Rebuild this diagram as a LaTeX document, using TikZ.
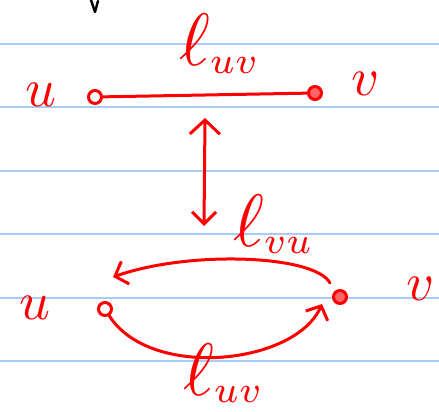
\documentclass[tikz,border=0pt]{standalone}
\usetikzlibrary{arrows.meta}
\definecolor{ruled}{RGB}{168,204,245}
\definecolor{ink}{RGB}{255,0,0}
\newcommand{\bigell}{\scalebox{1.4}{$\ell$}}
\begin{document}
\begin{tikzpicture}[x=1pt,y=-1pt,
  rule/.style={ruled,line width=2pt},
  pen/.style={ink,line width=3pt,line cap=round,line join=round},
  vtx/.style={circle,draw=ink,line width=3pt,minimum size=13pt,inner sep=0pt},
  arr/.style={pen,-{Straight Barb[length=11pt,width=24pt,line width=3pt]}},
  dbl/.style={pen,{Straight Barb[length=14pt,width=30pt,line width=3pt]}-{Straight Barb[length=12pt,width=24pt,line width=3pt]}},
  lbl/.style={text=ink,inner sep=0pt,scale=5.4},
  elbl/.style={text=ink,inner sep=0pt,scale=5.3,anchor=base west}]
\useasboundingbox (0,0) rectangle (439,412);
\fill[white] (0,0) rectangle (439,412);
% ruled lines
\foreach \yy in {44,107,171,234,298,361}{\draw[rule] (0,\yy) -- (439,\yy);}
% black remnant
\draw[black,line width=2.4pt,line cap=round,line join=round] (91,0) -- (95,12) -- (98,1);
% top graph
\node[vtx] (u1) at (95,97) {};
\node[vtx,fill=ink!60] (v1) at (315,93) {};
\node[lbl] (lu1) at (41,95) {$u$};
\node[lbl] (lv1) at (366,84) {$v$};
\node[elbl] (e1) at (178,66) {$\bigell_{uv}$};
\draw[pen] (u1) -- (v1);
% double arrow
\coordinate (a1) at (205,118);
\coordinate (a2) at (204,226);
\draw[dbl] (a1) -- (a2);
% bottom graph
\node[vtx] (u2) at (105,309) {};
\node[vtx,fill=ink!60] (v2) at (340,297) {};
\node[lbl] (lu2) at (35,308) {$u$};
\node[lbl] (lv2) at (421,289) {$v$};
\node[elbl] (e2) at (232,246) {$\bigell_{vu}$};
\node[elbl] (e3) at (182,395) {$\bigell_{uv}$};
\coordinate (s1) at (330,283);
\coordinate (t1) at (113,277);
\draw[arr] (s1) .. controls (315,255) and (190,250) .. (t1);
\coordinate (t2) at (322,304);
\draw[arr] (u2) .. controls (150,380) and (295,365) .. (t2);
\end{tikzpicture}
\end{document}
